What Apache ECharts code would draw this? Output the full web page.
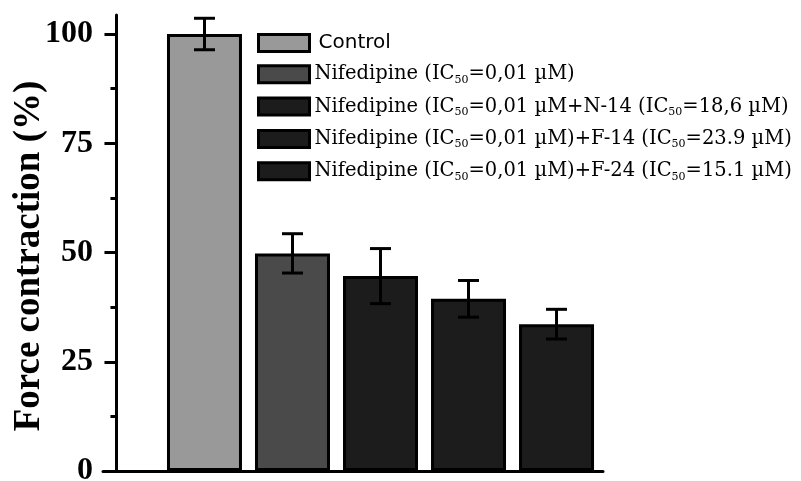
<!DOCTYPE html>
<html>
<head>
<meta charset="utf-8">
<title>Force contraction</title>
<script src="https://cdn.jsdelivr.net/npm/echarts@6/dist/echarts.min.js"></script>
<style>
  html, body { margin: 0; padding: 0; background: #fff; }
  #chart { width: 801px; height: 481px; }
</style>
</head>
<body>
<div id="chart"></div>
<script>
// 图例名称（每根柱子一个系列）
const groups = [
  'Control',
  'Nifedipine (IC50=0,01 µM)',
  'Nifedipine (IC50=0,01 µM+N-14 (IC50=18,6 µM)',
  'Nifedipine (IC50=0,01 µM)+F-14 (IC50=23.9 µM)',
  'Nifedipine (IC50=0,01 µM)+F-24 (IC50=15.1 µM)',
]
// 柱子在 X 轴上的位置
const positions = [1, 2, 3, 4, 5]
// 收缩力 (%)
const values = [100, 49.8, 44.6, 39.4, 33.6]
// 误差（±）
const errors = [3.6, 4.5, 6.3, 4.2, 3.4]
const colors = ['#999999', '#4a4a4a', '#1c1c1c', '#1c1c1c', '#1c1c1c']
// Y 轴刻度
const majorTicks = [0, 25, 50, 75, 100]
const minorTicks = [12.5, 37.5, 62.5, 87.5]

const chart = echarts.init(document.getElementById('chart'))

const barSeries = groups.map((name, i) => ({
  name,
  type: 'bar',
  barWidth: 75,
  barGap: '-100%',
  data: [[positions[i], values[i]]],
  itemStyle: { color: colors[i], borderColor: '#000', borderWidth: 3 },
  emphasis: { disabled: true },
  animation: false,
}))

// 误差线
const errorSeries = {
  name: 'error',
  type: 'custom',
  z: 10,
  animation: false,
  data: positions.map((x, i) => [x, values[i] - errors[i], values[i] + errors[i]]),
  renderItem(params, api) {
    const x = api.value(0)
    const lo = api.coord([x, api.value(1)])
    const hi = api.coord([x, api.value(2)])
    const w = 10.5
    const style = { stroke: '#000', lineWidth: 3 }
    return {
      type: 'group',
      children: [
        { type: 'line', shape: { x1: lo[0], y1: lo[1], x2: hi[0], y2: hi[1] }, style },
        { type: 'line', shape: { x1: lo[0] - w, y1: lo[1], x2: lo[0] + w, y2: lo[1] }, style },
        { type: 'line', shape: { x1: hi[0] - w, y1: hi[1], x2: hi[0] + w, y2: hi[1] }, style },
      ],
    }
  },
}

chart.setOption({
  backgroundColor: '#fff',
  animation: false,
  grid: { left: 103, right: 198, top: 15, bottom: 10, outerBoundsMode: 'none' },
  legend: {
    data: groups,
    orient: 'vertical',
    left: 257,
    top: 33,
    padding: 0,
    icon: 'rect',
    itemWidth: 51,
    itemHeight: 17,
    itemGap: 11.3,
    selectedMode: false,
    itemStyle: { borderColor: '#000', borderWidth: 3 },
    formatter(name) {
      if (name === 'Control') return '{c|' + name + '}'
      return '{t|' + name.replace(/IC50/g, 'IC}{s|50}{t|') + '}'
    },
    textStyle: {
      color: '#000',
      rich: {
        c: { fontFamily: 'DejaVu Sans', fontSize: 20, lineHeight: 22, padding: [0, 0, 0, 4], color: '#000' },
        t: { fontFamily: 'DejaVu Serif', fontSize: 19.5, lineHeight: 22, color: '#000' },
        s: { fontFamily: 'DejaVu Serif', fontSize: 11, lineHeight: 6, verticalAlign: 'bottom', color: '#000' },
      },
    },
  },
  xAxis: {
    type: 'value',
    min: -0.153,
    max: 5.528,
    axisLine: { show: true, onZero: true, lineStyle: { color: '#000', width: 3 } },
    axisTick: { show: false },
    axisLabel: { show: false },
    splitLine: { show: false },
  },
  yAxis: [
    {
      type: 'value',
      min: 0,
      max: 104.35,
      axisLine: { show: true, onZero: true, onZeroAxisIndex: 0, lineStyle: { color: '#000', width: 3 } },
      axisTick: { show: true, length: 12, customValues: majorTicks, lineStyle: { color: '#000', width: 3 } },
      axisLabel: {
        customValues: majorTicks,
        margin: 10,
        color: '#000',
        fontFamily: 'Liberation Serif',
        fontWeight: 'bold',
        fontSize: 32,
      },
      splitLine: { show: false },
      name: 'Force contraction (%)',
      nameLocation: 'middle',
      nameRotate: 90,
      nameGap: 55,
      nameMoveOverlap: false,
      nameTextStyle: {
        color: '#000',
        fontFamily: 'Liberation Serif',
        fontWeight: 'bold',
        fontSize: 37,
        padding: [0, 26, 0, 0],
      },
    },
    {
      type: 'value',
      min: 0,
      max: 104.35,
      position: 'left',
      axisLine: { show: false, onZero: true, onZeroAxisIndex: 0 },
      axisTick: { show: true, length: 6, customValues: minorTicks, lineStyle: { color: '#000', width: 3 } },
      axisLabel: { show: false },
      splitLine: { show: false },
    },
  ],
  series: [...barSeries, errorSeries],
})
</script>
</body>
</html>
